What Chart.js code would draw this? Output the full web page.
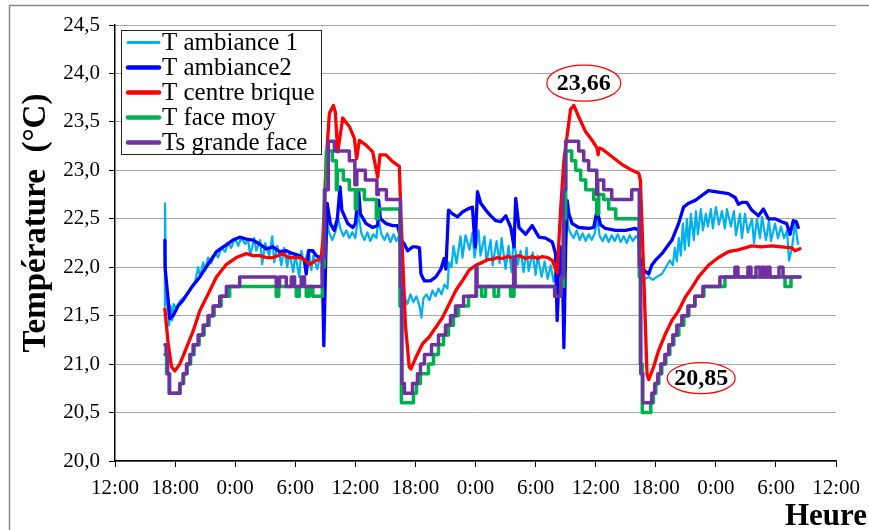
<!DOCTYPE html>
<html><head><meta charset="utf-8">
<script src="https://cdn.jsdelivr.net/npm/chart.js@4.4.0/dist/chart.umd.min.js"></script>
<style>html,body{margin:0;padding:0;background:#fff;}#wrap{width:869px;height:530px;}</style>
</head><body><div id="wrap"><canvas id="c" width="869" height="530"></canvas></div>
<script>
// ---- data (x = hours since 12:00 of day 1, y = °C) ----
const xTickHours = [0,6,12,18,24,30,36,42,48,54,60,66,72];
const yTicks = [20.0,20.5,21.0,21.5,22.0,22.5,23.0,23.5,24.0,24.5];
const seriesNames = ['T ambiance 1','T ambiance2','T centre brique','T face moy','Ts grande face'];

const tAmbiance1 = [[4.98,21.6],[5.0,22.66],[5.1,21.7],[5.3,21.55],[5.4,21.4],[5.55,21.6],[5.7,21.45],[5.85,21.62],[6.1,21.58],[6.5,21.65],[7.0,21.7],[7.5,21.78],[8.0,21.85],[8.3,22.0],[8.5,21.9],[8.8,22.05],[9.0,21.97],[9.3,22.1],[9.6,22.04],[10.0,22.15],[10.3,22.1],[10.6,22.2],[11.0,22.16],[11.3,22.25],[11.6,22.2],[12.0,22.3],[12.3,22.22],[12.6,22.3],[13.0,22.24],[13.3,22.28],[13.5,22.12],[13.9,22.3],[14.1,22.17],[14.5,22.28],[14.7,22.03],[15.0,22.25],[15.4,22.12],[15.7,22.32],[15.9,22.05],[16.2,22.22],[16.4,22.14],[16.6,22.02],[16.9,22.2],[17.2,22.0],[17.4,22.16],[17.8,21.95],[18.0,22.13],[18.4,21.9],[18.6,22.17],[18.9,22.03],[19.3,22.18],[19.6,21.97],[19.8,22.12],[20.2,21.98],[20.5,22.12],[20.7,22.02],[20.85,21.8],[21.1,22.5],[21.4,22.35],[21.7,22.28],[22.0,22.36],[22.3,22.5],[22.5,22.4],[22.8,22.32],[23.1,22.38],[23.4,22.3],[23.7,22.36],[24.0,22.3],[24.3,22.55],[24.6,22.35],[24.9,22.28],[25.2,22.36],[25.5,22.27],[25.8,22.34],[26.1,22.3],[26.3,22.5],[26.6,22.34],[26.9,22.28],[27.2,22.35],[27.5,22.26],[27.8,22.34],[28.1,22.27],[28.4,22.33],[28.6,21.9],[28.9,21.7],[29.2,21.62],[29.5,21.72],[29.8,21.64],[30.1,21.7],[30.4,21.6],[30.6,21.48],[30.8,21.68],[31.1,21.72],[31.4,21.66],[31.7,21.76],[32.0,21.7],[32.3,21.78],[32.6,21.72],[32.9,21.82],[33.2,21.78],[33.35,22.05],[33.6,22.0],[33.8,22.22],[34.1,22.04],[34.5,22.32],[34.7,22.1],[35.0,22.33],[35.4,22.18],[35.7,22.36],[35.9,22.1],[36.3,22.38],[36.5,22.12],[36.9,22.32],[37.1,22.06],[37.5,22.28],[37.7,22.02],[38.1,22.27],[38.4,22.04],[38.6,22.3],[39.0,21.98],[39.3,22.22],[39.6,21.95],[39.8,22.3],[40.2,22.02],[40.5,22.17],[40.8,21.95],[41.1,22.2],[41.3,21.96],[41.7,22.15],[42.0,21.92],[42.2,22.12],[42.6,21.9],[42.9,22.06],[43.2,21.88],[43.5,22.02],[43.8,21.85],[44.0,21.95],[44.2,21.7],[44.4,21.95],[44.6,21.9],[44.85,22.1],[45.1,22.55],[45.3,22.4],[45.5,22.35],[45.8,22.3],[46.1,22.38],[46.4,22.28],[46.7,22.35],[47.0,22.27],[47.3,22.34],[47.6,22.28],[47.9,22.35],[48.15,22.5],[48.4,22.32],[48.7,22.27],[49.0,22.34],[49.3,22.26],[49.6,22.33],[49.9,22.27],[50.2,22.34],[50.5,22.26],[50.8,22.32],[51.1,22.25],[51.4,22.33],[51.7,22.27],[52.0,22.32],[52.25,22.3],[52.35,22.0],[52.6,21.83],[52.9,21.88],[53.3,21.9],[53.7,21.87],[54.1,21.9],[54.6,21.93],[55.0,22.0],[55.4,22.07],[55.7,22.02],[55.9,22.2],[56.1,22.06],[56.3,22.3],[56.5,22.12],[56.7,22.45],[56.9,22.18],[57.1,22.5],[57.3,22.22],[57.5,22.55],[57.8,22.28],[58.0,22.58],[58.2,22.34],[58.5,22.6],[58.7,22.38],[59.0,22.55],[59.2,22.42],[59.5,22.6],[59.7,22.4],[60.0,22.62],[60.3,22.44],[60.6,22.58],[60.9,22.4],[61.1,22.6],[61.5,22.42],[61.8,22.58],[62.0,22.33],[62.4,22.55],[62.6,22.3],[62.9,22.55],[63.2,22.36],[63.6,22.5],[63.8,22.25],[64.1,22.5],[64.4,22.3],[64.6,22.52],[65.0,22.28],[65.3,22.48],[65.5,22.27],[65.9,22.45],[66.2,22.3],[66.5,22.42],[66.8,22.3],[67.1,22.38],[67.3,22.07],[67.6,22.2],[67.9,22.45],[68.2,22.24]];

const tAmbiance2 = [[4.98,22.28],[5.0,22.0],[5.48,21.47],[5.8,21.5],[6.3,21.6],[6.8,21.66],[7.64,21.79],[8.47,21.9],[9.29,22.03],[10.13,22.16],[10.96,22.22],[11.78,22.28],[12.45,22.31],[13.12,22.29],[13.77,22.28],[14.44,22.24],[15.11,22.19],[15.77,22.21],[16.43,22.16],[17.1,22.17],[17.76,22.14],[18.43,22.12],[18.92,22.07],[19.09,21.93],[19.35,22.17],[19.75,22.17],[20.09,22.12],[20.42,22.1],[20.69,22.07],[20.85,21.19],[21.02,22.0],[21.18,22.66],[21.5,22.45],[21.9,22.38],[22.2,22.5],[22.47,22.83],[22.65,22.59],[23.24,22.45],[23.74,22.41],[24.0,22.45],[24.33,22.79],[24.5,22.55],[25.07,22.45],[25.73,22.41],[26.23,22.43],[26.33,22.69],[26.5,22.5],[27.06,22.45],[27.72,22.43],[28.22,22.43],[28.56,22.28],[28.89,22.24],[29.22,22.17],[29.72,22.21],[30.05,22.21],[30.4,22.2],[30.55,21.93],[30.88,21.86],[31.5,21.86],[32.04,21.9],[32.54,21.98],[32.87,22.09],[33.04,21.98],[33.3,22.59],[33.7,22.55],[34.2,22.52],[34.69,22.57],[35.19,22.6],[35.69,22.62],[35.96,22.21],[36.19,22.78],[36.52,22.66],[37.02,22.59],[37.52,22.53],[38.02,22.48],[38.52,22.47],[39.02,22.53],[39.52,22.41],[39.84,22.21],[40.01,22.71],[40.34,22.41],[41.0,22.34],[41.66,22.43],[42.33,22.31],[43.0,22.3],[43.66,22.26],[43.99,22.14],[44.15,21.45],[44.37,22.0],[44.49,22.21],[44.65,22.17],[44.82,21.17],[45.0,22.2],[45.15,22.69],[45.32,22.55],[45.65,22.45],[46.31,22.41],[47.3,22.4],[47.8,22.41],[48.14,22.59],[48.47,22.44],[48.97,22.4],[49.97,22.38],[50.97,22.38],[51.96,22.4],[52.29,22.38],[52.4,22.1],[52.79,21.97],[53.29,21.93],[53.59,22.02],[53.95,22.07],[54.61,22.14],[55.61,22.28],[56.27,22.45],[56.77,22.62],[57.27,22.66],[57.94,22.69],[58.6,22.74],[59.26,22.79],[59.93,22.78],[60.59,22.77],[61.25,22.76],[61.92,22.72],[62.25,22.65],[62.65,22.67],[63.08,22.67],[63.58,22.59],[64.24,22.53],[64.74,22.6],[65.24,22.5],[65.9,22.5],[66.57,22.47],[67.06,22.45],[67.4,22.34],[67.73,22.48],[68.03,22.47],[68.23,22.41]];

const tCentreBrique = [[4.98,21.57],[5.31,21.21],[5.65,20.97],[5.98,20.93],[6.47,21.0],[7.14,21.17],[7.8,21.34],[8.47,21.55],[9.29,21.72],[10.13,21.9],[11.13,22.03],[12.12,22.1],[13.12,22.14],[13.8,22.12],[14.44,22.12],[15.1,22.1],[15.77,22.1],[16.3,22.12],[16.76,22.14],[17.3,22.1],[17.76,22.1],[18.3,22.1],[18.76,22.09],[19.42,22.03],[20.09,22.07],[20.59,22.09],[20.75,22.28],[21.09,23.1],[21.41,23.59],[21.81,23.67],[22.0,23.6],[22.24,23.19],[22.74,23.54],[23.41,23.45],[23.9,23.33],[24.13,23.12],[24.4,23.31],[25.07,23.26],[25.73,23.19],[26.23,22.93],[26.46,23.16],[27.06,23.16],[27.72,23.09],[28.39,23.04],[28.56,22.5],[29.0,21.4],[29.38,20.97],[29.55,20.95],[30.05,21.07],[30.71,21.21],[31.37,21.28],[32.04,21.38],[32.7,21.48],[33.37,21.62],[34.03,21.76],[34.69,21.86],[35.36,21.97],[36.03,22.02],[36.68,22.05],[37.2,22.08],[37.68,22.08],[38.2,22.1],[38.67,22.09],[39.2,22.11],[39.67,22.1],[40.34,22.12],[41.0,22.09],[41.66,22.11],[42.2,22.09],[42.66,22.11],[43.2,22.1],[43.66,22.07],[44.15,21.94],[44.5,22.6],[44.82,23.1],[45.49,23.63],[45.82,23.67],[46.31,23.55],[46.98,23.4],[47.64,23.31],[48.14,23.23],[48.24,23.16],[48.34,23.23],[48.64,23.22],[49.63,23.14],[50.63,23.06],[51.62,23.0],[52.29,22.97],[52.46,22.9],[52.8,21.9],[53.12,20.9],[53.29,20.84],[53.78,20.97],[54.28,21.14],[54.95,21.31],[55.61,21.45],[56.27,21.55],[56.94,21.69],[57.6,21.79],[58.27,21.9],[59.26,22.02],[60.26,22.1],[61.25,22.16],[62.25,22.18],[62.9,22.2],[63.58,22.22],[64.57,22.21],[65.57,22.22],[66.57,22.21],[67.56,22.2],[67.9,22.17],[68.39,22.19]];

const tFaceMoy = [[4.98,21.1],[5.15,20.9],[5.4,20.7],[6.5,20.8],[6.85,20.9],[7.2,21.0],[7.55,21.1],[7.9,21.2],[8.4,21.3],[8.9,21.4],[9.4,21.5],[9.9,21.6],[10.6,21.7],[11.45,21.8],[16.1,21.7],[16.35,21.8],[18.1,21.7],[18.4,21.8],[19.1,21.7],[19.4,21.8],[19.75,21.7],[20.7,22.0],[20.9,22.8],[21.1,23.2],[21.7,23.1],[22.1,22.8],[22.2,23.0],[22.8,22.9],[23.4,22.8],[24.0,22.6],[24.15,22.8],[24.9,22.7],[26.1,22.5],[26.3,22.6],[28.45,21.6],[28.6,20.6],[29.8,20.7],[30.1,20.8],[30.5,20.9],[31.3,21.0],[31.8,21.1],[32.3,21.2],[32.8,21.3],[33.3,21.4],[33.8,21.5],[34.3,21.6],[35.3,21.7],[36.1,21.8],[36.6,21.7],[37.0,21.8],[37.85,21.7],[38.3,21.8],[39.5,21.7],[39.84,21.8],[43.9,21.7],[44.5,21.8],[44.8,22.5],[45.0,23.2],[45.6,23.1],[46.0,23.0],[46.5,22.9],[47.0,22.8],[47.8,22.7],[48.1,22.55],[48.3,22.75],[48.8,22.7],[49.3,22.6],[50.0,22.5],[52.35,21.9],[52.45,21.0],[52.65,20.5],[53.5,20.6],[53.75,20.7],[54.0,20.8],[54.3,20.9],[54.6,21.0],[55.0,21.1],[55.4,21.2],[55.8,21.3],[56.3,21.4],[56.8,21.5],[57.3,21.6],[57.9,21.7],[58.8,21.8],[60.9,21.9],[66.9,21.8],[67.5,21.9],[68.4,21.9]];

const tsGrandeFace = [[4.98,21.2],[5.1,21.1],[5.25,20.9],[5.45,20.7],[6.47,20.8],[6.8,20.9],[7.14,21.0],[7.47,21.1],[7.8,21.2],[8.3,21.3],[8.8,21.4],[9.29,21.5],[9.79,21.6],[10.46,21.7],[11.12,21.8],[12.45,21.9],[16.1,21.8],[16.43,21.9],[17.1,21.8],[17.6,21.9],[17.93,21.8],[18.6,21.9],[18.92,21.8],[20.7,22.1],[20.95,22.8],[21.3,23.3],[21.91,23.2],[23.4,23.1],[23.95,22.85],[24.15,23.0],[25.0,22.9],[26.15,22.75],[26.3,22.8],[27.1,22.7],[28.5,21.8],[28.65,20.8],[28.9,20.7],[29.7,20.8],[30.2,20.9],[30.5,21.0],[30.9,21.1],[31.6,21.2],[32.3,21.3],[33.0,21.4],[33.5,21.5],[34.0,21.6],[34.8,21.7],[36.05,22.0],[36.15,21.8],[39.8,22.1],[39.95,21.8],[43.9,21.7],[44.5,21.9],[44.75,22.8],[45.0,23.3],[46.3,23.2],[46.8,23.1],[47.3,23.0],[48.1,22.75],[48.2,22.9],[48.8,22.8],[49.6,22.7],[51.6,22.8],[52.35,22.0],[52.5,20.9],[52.7,20.6],[53.6,20.7],[53.9,20.8],[54.2,20.9],[54.5,21.0],[54.9,21.1],[55.3,21.2],[55.7,21.3],[56.1,21.4],[56.6,21.5],[57.2,21.6],[57.9,21.7],[58.7,21.8],[60.4,21.9],[61.9,22.0],[62.2,21.9],[63.2,22.0],[63.5,21.9],[64.0,22.0],[64.4,21.9],[64.6,22.0],[64.9,21.9],[65.1,22.0],[65.4,21.9],[66.3,22.0],[66.7,21.9],[68.4,21.9]];

const calloutLabels = ['23,66','20,85'];
const calloutHours = [46.81, 58.53];
const calloutTemps = [23.9, 20.855];

// ---- styles ----
const colors = ['#00B0F0','#0000FF','#FF0000','#00B050','#7030A0'];
const widths = [2.2, 3.3, 3.3, 3.5, 3.5];
const legendWidths = [3, 4.5, 4.5, 4.5, 4.5];
const SERIF = '"Liberation Serif","Times New Roman",serif';

const allSeries = [tAmbiance1, tAmbiance2, tCentreBrique, tFaceMoy, tsGrandeFace];
const datasets = allSeries.map((s, i) => ({
  label: seriesNames[i],
  data: s.map(p => ({x: p[0], y: p[1]})),
  borderColor: colors[i],
  backgroundColor: colors[i],
  borderWidth: widths[i],
  pointRadius: 0,
  fill: false,
  tension: 0,
  stepped: i >= 3 ? 'before' : false,
  order: 5 - i,
  borderJoinStyle: 'round',
  borderCapStyle: 'round'
}));

const decor = {
  id: 'decor',
  beforeDraw(chart) {
    const c = chart.ctx;
    c.save(); c.fillStyle = '#fff'; c.fillRect(0, 0, chart.width, chart.height); c.restore();
  },
  afterDraw(chart) {
    const c = chart.ctx;
    const xs = chart.scales.x, ys = chart.scales.y;
    c.save();
    c.strokeStyle = '#8c8c8c'; c.lineWidth = 1.5;
    c.strokeRect(9.5, 5.5, 1000, 1000);
    const lx = 121.5, ly = 30.5, lw = 200, lh = 124;
    c.fillStyle = '#fff'; c.fillRect(lx, ly, lw, lh);
    c.strokeStyle = '#222'; c.lineWidth = 1; c.strokeRect(lx, ly, lw, lh);
    c.font = '25px ' + SERIF; c.textBaseline = 'middle'; c.textAlign = 'left';
    chart.data.datasets.forEach((d, i) => {
      const y = 42.5 + i * 25;
      c.strokeStyle = d.borderColor; c.lineWidth = legendWidths[i]; c.lineCap = 'round';
      c.beginPath(); c.moveTo(128, y); c.lineTo(159, y); c.stroke();
      c.fillStyle = '#000'; c.fillText(d.label, 162, y + 1);
    });
    calloutLabels.forEach((t, i) => {
      const cx = xs.getPixelForValue(calloutHours[i]);
      const cy = ys.getPixelForValue(calloutTemps[i]);
      const rx = i === 0 ? 37 : 34, ry = i === 0 ? 18 : 15.5;
      c.beginPath(); c.ellipse(cx, cy, rx, ry, 0, 0, Math.PI * 2);
      c.fillStyle = '#fff'; c.fill();
      c.strokeStyle = '#FF0000'; c.lineWidth = 1.2; c.stroke();
      c.fillStyle = '#000'; c.font = 'bold 24px ' + SERIF;
      c.textAlign = 'center'; c.textBaseline = 'middle';
      c.fillText(t, cx, cy + 1);
    });
    c.fillStyle = '#000';
    c.font = 'bold 33px ' + SERIF;
    c.save(); c.translate(36, 223); c.rotate(-Math.PI / 2);
    c.textAlign = 'center'; c.textBaseline = 'middle';
    c.fillText('Température  (°C)', 0, 0); c.restore();
    c.font = 'bold 31px ' + SERIF;
    c.textAlign = 'right'; c.textBaseline = 'alphabetic';
    c.fillText('Heure', 867, 525);
    c.restore();
  }
};

new Chart(document.getElementById('c'), {
  type: 'line',
  data: { datasets },
  options: {
    responsive: false, animation: false, devicePixelRatio: 1,
    layout: { padding: { top: 25, right: 31, left: 0, bottom: 0 } },
    plugins: { legend: { display: false }, tooltip: { enabled: false } },
    scales: {
      x: {
        type: 'linear', min: xTickHours[0], max: xTickHours[xTickHours.length - 1],
        afterFit(s) { s.height = 69; },
        afterBuildTicks(s) { s.ticks = xTickHours.map(v => ({ value: v })); },
        ticks: { callback: v => ((12 + v) % 24) + ':00', font: { family: SERIF, size: 21 }, color: '#000', padding: 9, maxRotation: 0, autoSkip: false },
        grid: { drawOnChartArea: false, color: '#000', tickLength: 6, tickColor: '#000' },
        border: { color: '#000', width: 1.5 }
      },
      y: {
        min: yTicks[0], max: yTicks[yTicks.length - 1],
        afterFit(s) { s.width = 115; },
        afterBuildTicks(s) { s.ticks = yTicks.map(v => ({ value: v })); },
        ticks: { callback: v => v.toFixed(1).replace('.', ','), font: { family: SERIF, size: 21 }, color: '#000', padding: 9 },
        grid: { color: '#A6A6A6', lineWidth: 1, tickLength: 6, tickColor: '#000' },
        border: { color: '#000', width: 1.5 }
      }
    }
  },
  plugins: [decor]
});
</script></body></html>
